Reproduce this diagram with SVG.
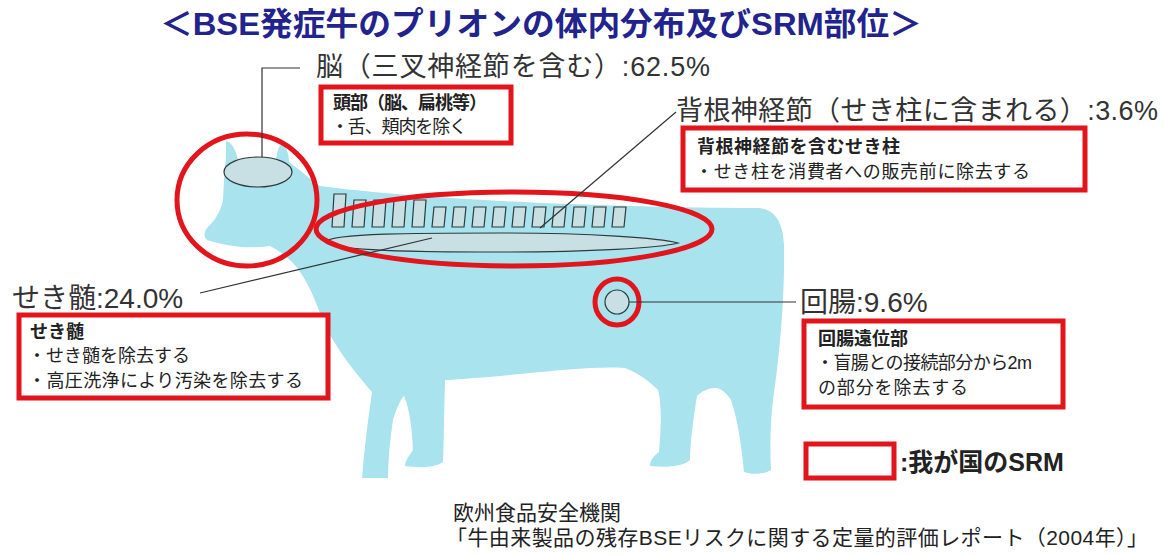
<svg xmlns="http://www.w3.org/2000/svg" width="1164" height="556" viewBox="0 0 1164 556">
  <style>
    text { font-family: "Liberation Sans", "Noto Sans CJK JP", sans-serif; }
    .title { font-size: 32px; font-weight: bold; fill: #22238c; }
    .label { font-size: 27px; fill: #333; }
    .bt { font-size: 18px; font-weight: bold; fill: #222; }
    .bl { font-size: 18px; fill: #222; }
    .note { font-size: 21px; fill: #222; }
    .cow { fill: #a9e3ee; }
    .organ { fill: #c8dfe3; stroke: #2e3a3d; stroke-width: 1.2; }
    .srm { fill: none; stroke: #e2141c; stroke-width: 5; }
    .box { fill: #fff; stroke: #e2141c; stroke-width: 5; }
    .lead { fill: none; stroke: #333; stroke-width: 1.2; }
  </style>
  <defs>
    <polygon id="vtShort" points="2,0 14,0 12,20 0,20"/>
  </defs>

  <rect width="1164" height="556" fill="#fff"/>

  <text class="title" x="160" y="35" textLength="762" lengthAdjust="spacingAndGlyphs">＜BSE発症牛のプリオンの体内分布及びSRM部位＞</text>

  <!-- cow silhouette -->
  <g id="cow">
    <path class="cow" d="M 226,141 C 231,141 236,150 238,160 L 276,160 C 277,152 279,145 283,142 C 287,148 289,156 289,162 C 298,168 308,178 320,186 C 380,194 460,199 540,203 C 620,206 700,208 758,208 C 775,209 783,222 784,245 C 785,300 779,360 773,400 C 770,425 770,450 771,470 C 765,474 752,475 744,472 C 742,450 738,420 731,400 C 726,392 720,388 716,388 C 708,388 702,391 697,396 C 693,420 690,445 690,460 C 684,466 668,468 650,466 C 650,460 654,456 659,452 C 661,430 662,405 658,390 C 650,382 640,374 625,368 C 600,366 560,370 520,374 C 490,377 465,379 445,380 C 444,410 444,440 443,462 C 435,468 418,468 405,466 C 405,460 410,455 413,450 C 412,430 410,410 404,396 C 400,400 396,410 393,420 C 390,440 388,460 388,478 L 362,478 C 364,450 368,420 372,392 C 355,372 332,345 320,313 C 312,292 305,276 292,262 C 285,255 278,250 270,246 C 250,249 230,247 207,240 C 203,236 204,230 210,225 C 216,219 221,210 223,200 C 224,185 224,170 226,160 Z"/>
  </g>

  <!-- head / brain -->
  <g id="head">
    <ellipse class="organ" cx="258" cy="172" rx="34" ry="15"/>
    <ellipse class="srm" cx="247" cy="200" rx="70" ry="66"/>
  </g>

  <!-- spinal column, dorsal root ganglia, spinal cord -->
  <g id="spine">
    <polygon class="organ" points="334,194 346,194 344,227 332,227"/>
    <polygon class="organ" points="354,200 366,200 364,227 352,227"/>
    <polygon class="organ" points="374,200 386,200 384,227 372,227"/>
    <polygon class="organ" points="394,200 406,200 404,227 392,227"/>
    <polygon class="organ" points="414,200 426,200 424,227 412,227"/>
    <use href="#vtShort" class="organ" x="432" y="207"/>
    <use href="#vtShort" class="organ" x="452" y="207"/>
    <use href="#vtShort" class="organ" x="472" y="207"/>
    <use href="#vtShort" class="organ" x="492" y="207"/>
    <use href="#vtShort" class="organ" x="512" y="207"/>
    <use href="#vtShort" class="organ" x="532" y="207"/>
    <use href="#vtShort" class="organ" x="552" y="207"/>
    <use href="#vtShort" class="organ" x="572" y="207"/>
    <use href="#vtShort" class="organ" x="592" y="207"/>
    <use href="#vtShort" class="organ" x="612" y="207"/>
    <path class="organ" d="M 325,242 C 332,233 420,233 500,233 C 590,233 660,238 678,243 C 660,248 590,252 500,252 C 420,252 332,251 325,242 Z"/>
    <ellipse class="srm" cx="514" cy="229" rx="198" ry="37"/>
  </g>

  <!-- ileum -->
  <g id="ileum">
    <circle class="organ" cx="617" cy="302" r="12"/>
    <ellipse class="srm" cx="617" cy="302" rx="22" ry="23"/>
  </g>

  <!-- leader lines -->
  <g id="connectors">
    <polyline class="lead" points="262,157 262,68 300,68"/>
    <line class="lead" x1="676" y1="112" x2="540" y2="228"/>
    <line class="lead" x1="200" y1="293" x2="432" y2="238"/>
    <line class="lead" x1="629" y1="302" x2="796" y2="302"/>
  </g>

  <!-- brain label -->
  <g id="brain-label">
    <text class="label" x="316" y="76" textLength="394">脳（三叉神経節を含む）:62.5%</text>
    <rect class="box" x="321" y="87" width="190" height="56"/>
    <text class="bt" x="333" y="109" textLength="154">頭部（脳、扁桃等）</text>
    <text class="bl" x="331" y="133" textLength="136">・舌、頬肉を除く</text>
  </g>

  <!-- dorsal root ganglia label -->
  <g id="drg-label">
    <text class="label" x="676" y="120" textLength="482">背根神経節（せき柱に含まれる）:3.6%</text>
    <rect class="box" x="683" y="128" width="402" height="62"/>
    <text class="bt" x="697" y="153" textLength="203">背根神経節を含むせき柱</text>
    <text class="bl" x="695" y="178" textLength="335">・せき柱を消費者への販売前に除去する</text>
  </g>

  <!-- spinal cord label -->
  <g id="cord-label">
    <text class="label" x="12" y="308" style="font-size:28px">せき髄:24.0%</text>
    <rect class="box" x="19" y="315" width="309" height="83"/>
    <text class="bt" x="30" y="338">せき髄</text>
    <text class="bl" x="28" y="362" textLength="162">・せき髄を除去する</text>
    <text class="bl" x="28" y="387" textLength="275">・高圧洗浄により汚染を除去する</text>
  </g>

  <!-- ileum label -->
  <g id="ileum-label">
    <text class="label" x="800" y="312" style="font-size:28px">回腸:9.6%</text>
    <rect class="box" x="804" y="321" width="259" height="86"/>
    <text class="bt" x="818" y="345">回腸遠位部</text>
    <text class="bl" x="816" y="369" textLength="216">・盲腸との接続部分から2m</text>
    <text class="bl" x="818" y="394" textLength="150">の部分を除去する</text>
  </g>

  <!-- legend -->
  <g id="legend">
    <rect class="box" x="806" y="444" width="88" height="34"/>
    <text x="900" y="471" style="font-size:25px;font-weight:bold;fill:#222">:我が国のSRM</text>
  </g>

  <!-- source -->
  <g id="source">
    <text class="note" x="453" y="520">欧州食品安全機関</text>
    <text class="note" x="446" y="545" textLength="702">「牛由来製品の残存BSEリスクに関する定量的評価レポート（2004年）」</text>
  </g>
</svg>
